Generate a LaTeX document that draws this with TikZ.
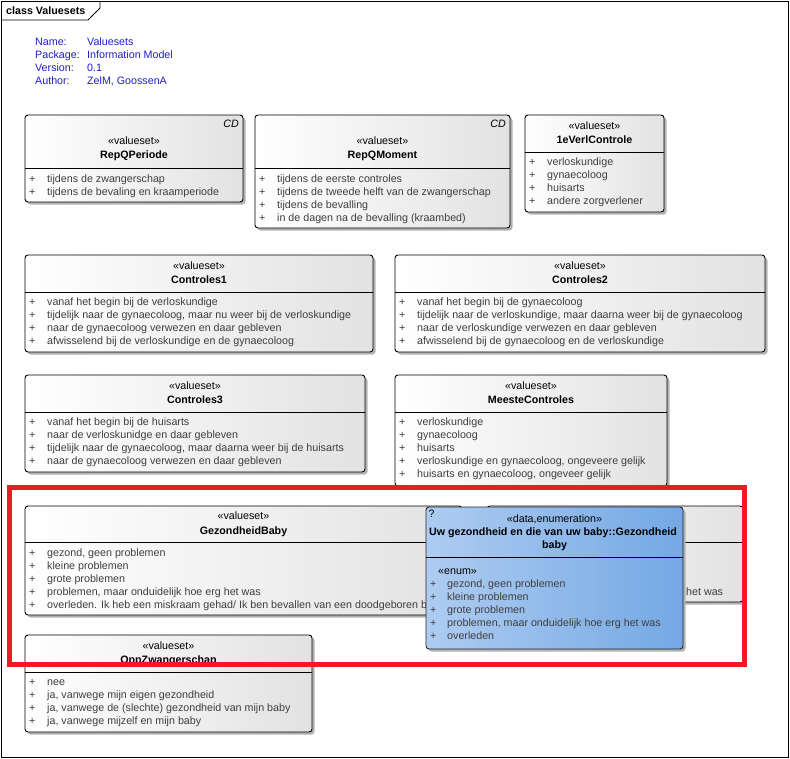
\documentclass[tikz,border=0pt]{standalone}
\usepackage{fontspec}
\setmainfont{Liberation Sans}
\newcommand{\fsz}{\fontsize{10.7}{13}\selectfont}
\definecolor{boxR}{RGB}{226,226,226}
\definecolor{itemgray}{RGB}{62,62,62}
\definecolor{infoblue}{RGB}{30,30,200}
\definecolor{enumL}{RGB}{174,204,241}
\definecolor{enumR}{RGB}{116,168,228}
\definecolor{markred}{RGB}{236,28,36}
\tikzset{
  frameline/.style={draw=black, line width=0.9pt},
  boxshadow/.style={fill=black!30, rounded corners=3pt},
  boxbody/.style={draw=black, line width=0.9pt, rounded corners=3pt, left color=white, right color=boxR},
  enumbody/.style={draw=black!85, line width=0.9pt, rounded corners=3pt, left color=enumL, right color=enumR},
  sepline/.style={draw=black, line width=0.9pt},
  stereo/.style={font=\fsz, anchor=base, inner sep=0pt},
  cname/.style={font=\fsz\bfseries, anchor=base, inner sep=0pt},
  itemtxt/.style={font=\fsz, text=itemgray, anchor=base west, inner sep=0pt},
  cdtag/.style={font=\fsz\itshape, anchor=base east, inner sep=0pt},
  info/.style={font=\fsz, text=infoblue, anchor=base west, inner sep=0pt},
}
% value-set box: name, x1, y1, x2, y2, separator y
\newcommand{\vsbox}[6]{%
  \fill[boxshadow] (#2+2.5,#3+2.5) rectangle (#4+2.5,#5+2.5);
  \path[boxbody] (#2,#3) rectangle (#4,#5);
  \coordinate (#1-sl) at (#2,#6);
  \coordinate (#1-sr) at (#4,#6);
  \draw[sepline] (#1-sl) -- (#1-sr);
}
% header texts: name, x1, x2, stereotype baseline, name baseline, class name
\newcommand{\vshead}[6]{%
  \node[stereo] (#1-st) at ({(#2+#3)/2},#4) {«valueset»};
  \node[cname] (#1-nm) at ({(#2+#3)/2},#5) {#6};
}
% literals: name, box x1, first baseline, list
\newcommand{\vsitems}[4]{%
  \foreach \t [count=\i] in {#4} {
    \node[itemtxt] (#1-p\i) at (#2+4,#3+13*\i-13) {+};
    \node[itemtxt] (#1-i\i) at (#2+22,#3+13*\i-13) {\t};
  }
}
\begin{document}
\begin{tikzpicture}[x=1pt,y=-1pt]
\useasboundingbox (0,0) rectangle (790,758);
% diagram frame with its name tab
\draw[frameline] (1,1) rectangle (788,757);
\draw[frameline] (1,20) -- (88,20) -- (100,8) -- (100,1);
\node[font=\fsz\bfseries, anchor=base west, inner sep=0pt] (title) at (6,14.5) {class Valuesets};
% package info
\node[info] (l1) at (35,45.5) {Name:};
\node[info] (l2) at (35,58.5) {Package:};
\node[info] (l3) at (35,71.5) {Version:};
\node[info] (l4) at (35,84.5) {Author:};
\node[info] (v1) at (87,45.5) {Valuesets};
\node[info] (v2) at (87,58.5) {Information Model};
\node[info] (v3) at (87,71.5) {0.1};
\node[info] (v4) at (87,84.5) {ZelM, GoossenA};

% RepQPeriode
\vsbox{rqp}{25}{115}{243}{202}{168}
\node[cdtag] (rqp-cd) at (239,127) {CD};
\vshead{rqp}{25}{243}{144.5}{158.7}{RepQPeriode}
\vsitems{rqp}{25}{182}{tijdens de zwangerschap, tijdens de bevaling en kraamperiode}

% RepQMoment
\vsbox{rqm}{255}{115}{510}{228}{168}
\node[cdtag] (rqm-cd) at (506,127) {CD};
\vshead{rqm}{255}{510}{144.5}{158.7}{RepQMoment}
\vsitems{rqm}{255}{182}{tijdens de eerste controles, tijdens de tweede helft van de zwangerschap, tijdens de bevalling, in de dagen na de bevalling (kraambed)}

% 1eVerlControle
\vsbox{evc}{525}{115}{664}{212}{152}
\vshead{evc}{525}{664}{129.5}{143.5}{1eVerlControle}
\vsitems{evc}{525}{165}{verloskundige, gynaecoloog, huisarts, andere zorgverlener}

% Controles1
\vsbox{c1}{25}{255}{373}{352}{292}
\vshead{c1}{25}{373}{269.5}{283.5}{Controles1}
\vsitems{c1}{25}{305}{vanaf het begin bij de verloskundige, {tijdelijk naar de gynaecoloog, maar nu weer bij de verloskundige}, naar de gynaecoloog verwezen en daar gebleven, afwisselend bij de verloskundige en de gynaecoloog}

% Controles2
\vsbox{c2}{395}{255}{765}{352}{292}
\vshead{c2}{395}{765}{269.5}{283.5}{Controles2}
\vsitems{c2}{395}{305}{vanaf het begin bij de gynaecoloog, {tijdelijk naar de verloskundige, maar daarna weer bij de gynaecoloog}, naar de verloskundige verwezen en daar gebleven, afwisselend bij de gynaecoloog en de verloskundige}

% Controles3
\vsbox{c3}{25}{375}{365}{472}{412}
\vshead{c3}{25}{365}{389.5}{403.5}{Controles3}
\vsitems{c3}{25}{425}{vanaf het begin bij de huisarts, naar de verloskunidge en daar gebleven, {tijdelijk naar de gynaecoloog, maar daarna weer bij de huisarts}, naar de gynaecoloog verwezen en daar gebleven}

% MeesteControles
\vsbox{mc}{395}{375}{667}{486}{412}
\vshead{mc}{395}{667}{389.5}{403.5}{MeesteControles}
\vsitems{mc}{395}{425}{verloskundige, gynaecoloog, huisarts, {verloskundige en gynaecoloog, ongeveere gelijk}, {huisarts en gynaecoloog, ongeveer gelijk}}

% GezondheidBaby
\vsbox{gb}{25}{506}{462}{615}{542}
\vshead{gb}{25}{462}{519.5}{534}{GezondheidBaby}
\vsitems{gb}{25}{556}{{gezond, geen problemen}, kleine problemen, grote problemen, {problemen, maar onduidelijk hoe erg het was}, overleden. Ik heb een miskraam gehad/ Ik ben bevallen van een doodgeboren baby}

% box partly hidden behind the enumeration
\vsbox{gb2}{487}{506}{743}{602}{542}
\node[itemtxt] (gb2-i4) at (686,595) {het was};

% enumeration from the questionnaire model
\fill[boxshadow] (428.5,509.5) rectangle (685.5,651.5);
\path[enumbody] (426,507) rectangle (683,649);
\coordinate (en-sl) at (426,557);
\coordinate (en-sr) at (683,557);
\draw[sepline] (en-sl) -- (en-sr);
\node[font=\fsz, anchor=base west, inner sep=0pt] (en-q) at (428.5,517) {?};
\node[stereo] (en-st) at (554.5,522) {«data,enumeration»};
\node[cname] (en-nm1) at (553,535) {Uw gezondheid en die van uw baby::Gezondheid};
\node[cname] (en-nm2) at (554.5,548.3) {baby};
\node[font=\fsz, anchor=base west, inner sep=0pt] (en-kw) at (438,574.3) {«enum»};
\foreach \t [count=\i] in {{gezond, geen problemen}, kleine problemen, grote problemen, {problemen, maar onduidelijk hoe erg het was}, overleden} {
  \node[itemtxt] (en-p\i) at (430,587+13*\i-13) {+};
  \node[itemtxt] (en-i\i) at (447,587+13*\i-13) {\t};
}

% OppZwangerschap
\vsbox{oz}{25}{635}{312}{732}{672}
\vshead{oz}{25}{312}{649}{663}{OppZwangerschap}
\vsitems{oz}{25}{685}{nee, {ja, vanwege mijn eigen gezondheid}, {ja, vanwege de (slechte) gezondheid van mijn baby}, {ja, vanwege mijzelf en mijn baby}}

% highlight marking
\draw[markred, line width=5pt] (9.5,487.5) rectangle (744.5,664.5);
\end{tikzpicture}
\end{document}
